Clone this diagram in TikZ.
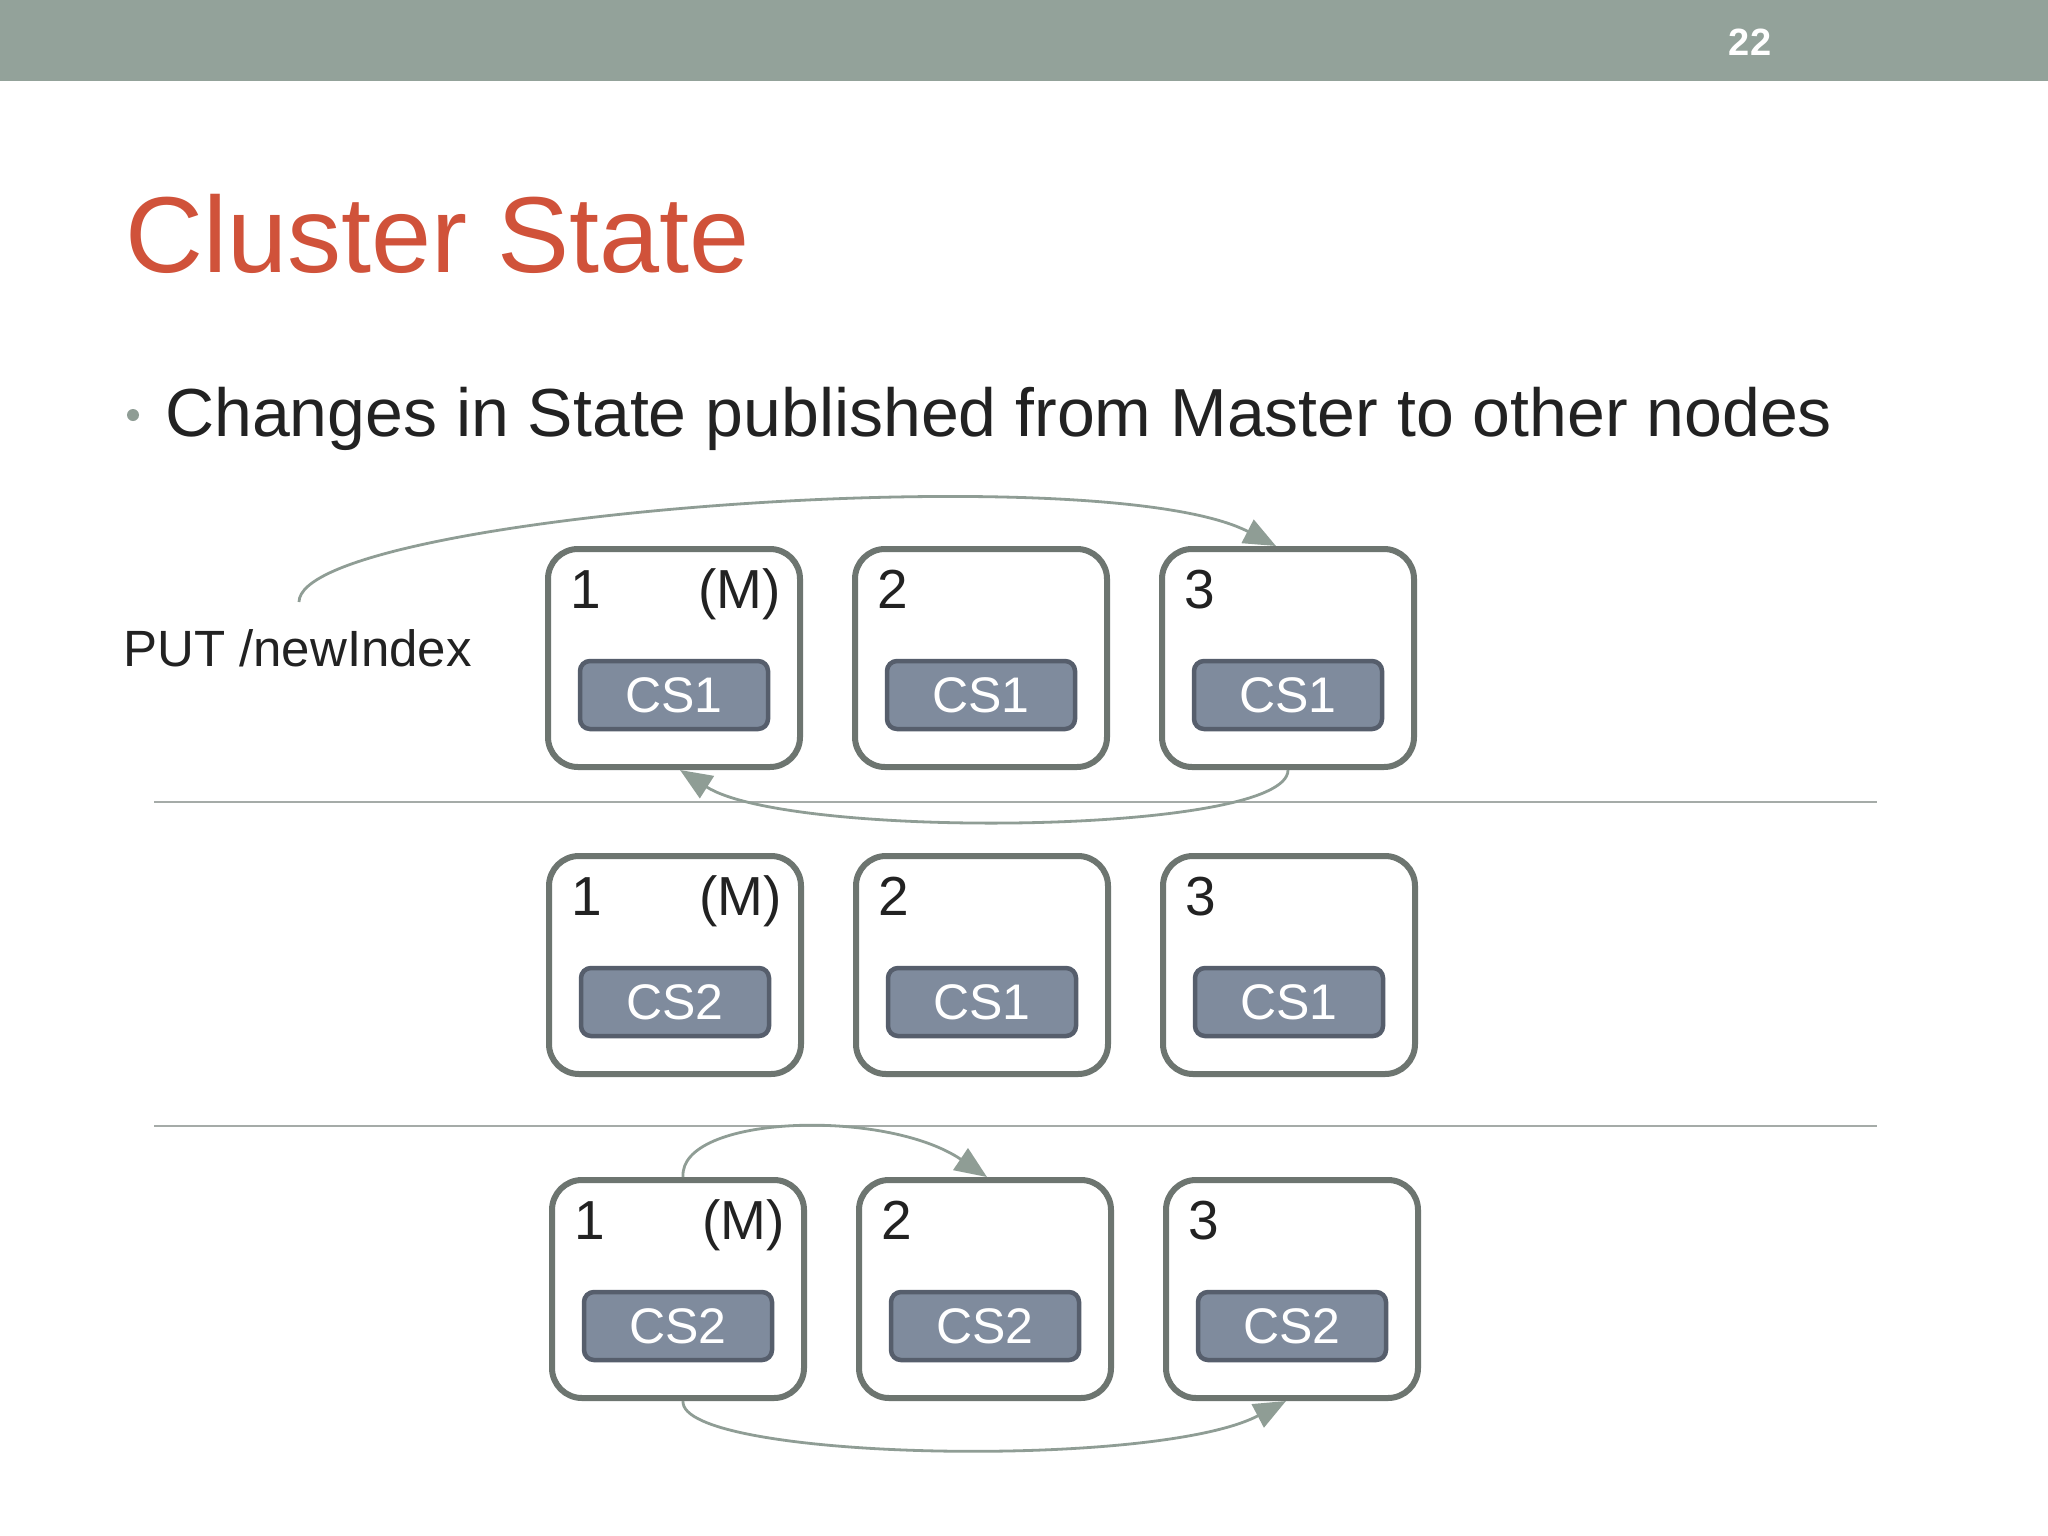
\documentclass[tikz,border=0pt]{standalone}
\usepackage{fontspec}
\setmainfont{Liberation Sans}
\usetikzlibrary{arrows.meta}
\definecolor{barcol}{HTML}{93A29A}
\definecolor{titlecol}{HTML}{D0523A}
\definecolor{txtcol}{HTML}{222222}
\definecolor{boxedge}{HTML}{6D7570}
\definecolor{csfill}{HTML}{7F8B9D}
\definecolor{csedge}{HTML}{565E6C}
\definecolor{arrcol}{HTML}{8F9D95}
\definecolor{sepcol}{HTML}{A5ABA8}
\tikzset{
  nodebox/.style={draw=boxedge, line width=6pt, fill=white, rounded corners=30pt, minimum width=252pt, minimum height=218pt, inner sep=0pt, anchor=north west},
  csbox/.style={draw=csedge, line width=4.5pt, fill=csfill, rounded corners=10pt, minimum width=188pt, minimum height=68pt, inner sep=0pt, text=white, font=\fontsize{50}{58}\selectfont},
  numlbl/.style={anchor=base west, inner sep=0pt, text=txtcol, font=\fontsize{55}{62}\selectfont},
  mlbl/.style={anchor=base east, inner sep=0pt, text=txtcol, font=\fontsize{55}{62}\selectfont},
  flow/.style={draw=arrcol, line width=2.8pt, -{Triangle[length=32pt,width=26pt]}},
  sepline/.style={draw=sepcol, line width=2pt}
}
\begin{document}
\begin{tikzpicture}[x=1pt,y=-1pt]
\useasboundingbox (0,0) rectangle (2048,1536);
\fill[white] (0,0) rectangle (2048,1536);
\fill[barcol] (0,0) rectangle (2048,81);
\node[anchor=base, inner sep=0pt, text=white, font=\bfseries\fontsize{38}{40}\selectfont] (pg) at (1750,56) {22};
\node[anchor=base west, inner sep=0pt, text=titlecol, font=\fontsize{108}{120}\selectfont] (title) at (125,272) {Cluster State};
\fill[arrcol] (133,415) circle (6);
\node[anchor=base west, inner sep=0pt, text=txtcol, font=\fontsize{68}{76}\selectfont] (bullet) at (165,436) {Changes in State published from Master to other nodes};
\node[anchor=base west, inner sep=0pt, text=txtcol, font=\fontsize{51}{58}\selectfont] (put) at (123,666) {PUT /newIndex};
\coordinate (putc) at (299,602);
% separators
\coordinate (s1a) at (154,802); \coordinate (s1b) at (1877,802);
\coordinate (s2a) at (154,1126); \coordinate (s2b) at (1877,1126);
\draw[sepline] (s1a) -- (s1b);
\draw[sepline] (s2a) -- (s2b);
% rows
\foreach \r/\y/\dx/\a/\b/\c in {1/546/0/CS1/CS1/CS1, 2/853/1/CS2/CS1/CS1, 3/1177/4/CS2/CS2/CS2}{
  \node[nodebox] (n\r a) at (545+\dx,\y) {};
  \node[nodebox] (n\r b) at (852+\dx,\y) {};
  \node[nodebox] (n\r c) at (1159+\dx,\y) {};
  \node[csbox] (cs\r a) at ([yshift=-37pt]n\r a.center) {\a};
  \node[csbox] (cs\r b) at ([yshift=-37pt]n\r b.center) {\b};
  \node[csbox] (cs\r c) at ([yshift=-37pt]n\r c.center) {\c};
  \node[numlbl] (l\r a) at ([xshift=25pt,yshift=-62pt]n\r a.north west) {1};
  \node[mlbl] (m\r a) at ([xshift=-22pt,yshift=-62pt]n\r a.north east) {(M)};
  \node[numlbl] (l\r b) at ([xshift=25pt,yshift=-62pt]n\r b.north west) {2};
  \node[numlbl] (l\r c) at ([xshift=25pt,yshift=-62pt]n\r c.north west) {3};
}
% arrows
\draw[flow] (putc) .. controls (300,515) and (1100,455) .. ([xshift=-12pt]n1c.north);
\draw[flow] (n1c.south) .. controls (1288,835) and (790,840) .. ([xshift=6pt]n1a.south);
\draw[flow] ([xshift=5pt]n3a.north) .. controls (679,1115) and (885,1108) .. ([xshift=2pt]n3b.north);
\draw[flow] ([xshift=5pt]n3a.south) .. controls (679,1460) and (1155,1470) .. ([xshift=-6pt]n3c.south);
\end{tikzpicture}
\end{document}
